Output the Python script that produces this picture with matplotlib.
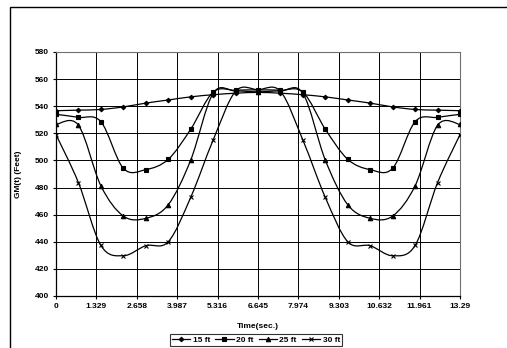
import numpy as np
import matplotlib.pyplot as plt
from matplotlib.path import Path
from matplotlib.patches import PathPatch, Rectangle
from matplotlib.lines import Line2D

plt.rcParams['font.family'] = ['Liberation Sans', 'DejaVu Sans']

# 時間軸 (19点, 0〜13.29秒)
t = np.linspace(0, 13.29, 19)

gm_15 = [536.7, 537.1, 537.6, 539.5, 542.3, 544.6, 546.9, 548.5, 549.6, 550.2,
         549.6, 548.5, 546.9, 544.6, 542.3, 539.5, 537.6, 537.1, 536.7]
gm_20 = [534.0, 531.8, 528.6, 494.2, 493.2, 500.8, 523.0, 550.4, 551.8, 552.0,
         551.8, 550.4, 523.0, 500.8, 493.2, 494.2, 528.6, 531.8, 534.0]
gm_25 = [526.6, 526.0, 481.3, 459.0, 457.3, 467.3, 500.2, 549.5, 551.2, 550.6,
         551.2, 549.5, 500.2, 467.3, 457.3, 459.0, 481.3, 526.0, 526.6]
gm_30 = [519.0, 483.6, 437.3, 429.7, 437.1, 440.0, 472.7, 515.0, 551.0, 552.2,
         551.0, 515.0, 472.7, 440.0, 437.1, 429.7, 437.3, 483.6, 519.0]

labels = ['15 ft', '20 ft', '25 ft', '30 ft']
markers = ['D', 's', '^', 'x']
msizes = [2.3, 3.3, 3.2, 3.2]
xtick_labels = ['0', '1.329', '2.658', '3.987', '5.316', '6.645',
                '7.974', '9.303', '10.632', '11.961', '13.29']


# Excel風のスムージング線 (Catmull-Rom -> ベジェ)
def smooth_path(x, y):
    p = np.column_stack([x, y])
    verts = [p[0]]
    codes = [Path.MOVETO]
    n = len(p)
    for i in range(n - 1):
        p0 = p[i - 1] if i > 0 else p[i]
        p3 = p[i + 2] if i + 2 < n else p[i + 1]
        c1 = p[i] + (p[i + 1] - p0) / 6
        c2 = p[i + 1] - (p3 - p[i]) / 6
        verts += [c1, c2, p[i + 1]]
        codes += [Path.CURVE4] * 3
    return Path(verts, codes)


fig = plt.figure(figsize=(5.07, 3.48), dpi=100)
ax = fig.add_axes([56 / 507, 1 - 296 / 348, 404 / 507, 244 / 348])

# 外枠
fig.patches.append(Rectangle((10 / 507, -0.1), 1.2, 1.1 - 7 / 348,
                             transform=fig.transFigure, fill=False,
                             edgecolor='black', linewidth=1.0))

handles = []
for y, lab, m, ms in zip([gm_15, gm_20, gm_25, gm_30], labels, markers, msizes):
    ax.add_patch(PathPatch(smooth_path(t, y), fill=False, edgecolor='black',
                           linewidth=0.9, zorder=3))
    ax.plot(t, y, linestyle='none', marker=m, markersize=ms, color='black',
            markeredgewidth=0.8, zorder=4)
    handles.append(Line2D([], [], color='black', linewidth=0.9, marker=m,
                          markersize=ms, markeredgewidth=0.8, label=lab))

ax.set_xlim(0, 13.29)
ax.set_ylim(400, 580)
ax.set_xticks(np.linspace(0, 13.29, 11))
ax.set_xticklabels(xtick_labels)
ax.set_yticks(np.arange(400, 581, 20))
ax.grid(True, color='black', linewidth=0.7)
ax.set_axisbelow(True)
for s in ['top', 'right']:
    ax.spines[s].set_color('#707070')
for s in ['left', 'bottom']:
    ax.spines[s].set_linewidth(0.9)
ax.tick_params(direction='out', length=2.5, width=0.8, pad=2.5,
               labelsize=6)
for lab in ax.get_xticklabels() + ax.get_yticklabels():
    lab.set_fontweight('bold')

ax.set_xlabel('Time(sec.)', fontsize=6, fontweight='bold')
ax.xaxis.set_label_coords(0.5, -0.11)
ax.set_ylabel('GM(t) (Feet)', fontsize=6, fontweight='bold')
ax.yaxis.set_label_coords(-0.084, 0.5)

leg = fig.legend(handles=handles, loc='upper center', ncol=4,
                 bbox_to_anchor=(256 / 507, 1 - 334 / 348),
                 prop={'size': 6, 'weight': 'bold'}, frameon=True,
                 fancybox=False, handlelength=2.2, handletextpad=0.3,
                 columnspacing=0.6, borderpad=0.25, borderaxespad=0)
leg.get_frame().set_edgecolor('black')
leg.get_frame().set_linewidth(0.8)

fig.savefig('out.png', dpi=100)
